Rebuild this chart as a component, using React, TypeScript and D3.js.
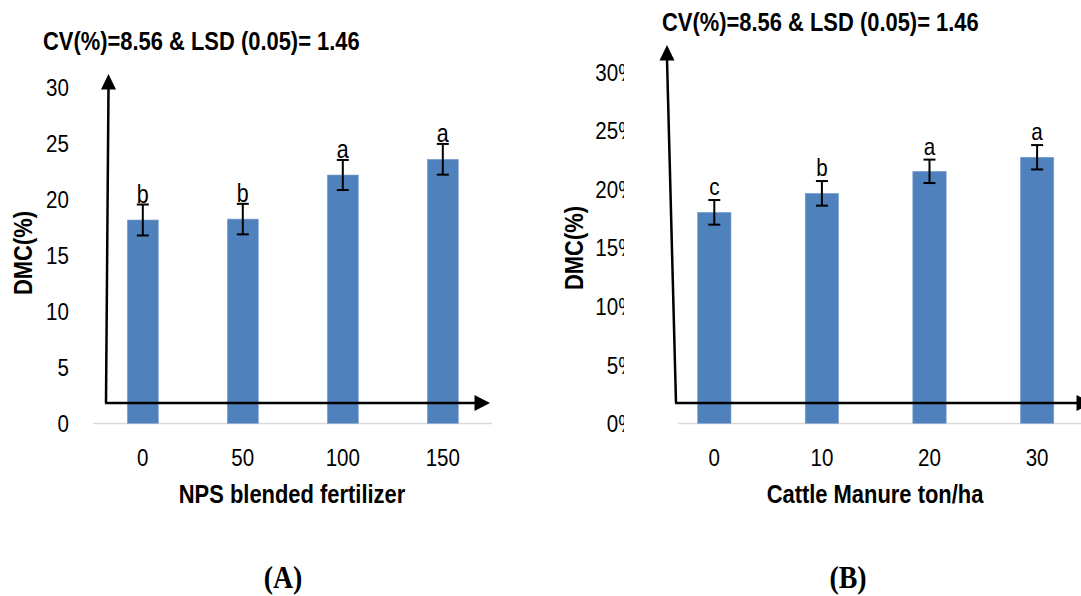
import React from 'react';
import * as d3 from 'd3';

// panel A: NPS blended fertilizer
const npsLevels = ['0', '50', '100', '150'];
const npsDmc = [18.12, 18.2, 22.13, 23.53];
const npsErr = [1.38, 1.36, 1.34, 1.37];
const npsLetters = ['b', 'b', 'a', 'a'];

// panel B: cattle manure
const manureLevels = ['0', '10', '20', '30'];
const manureDmc = [18.0, 19.62, 21.5, 22.7];
const manureErr = [1.05, 1.05, 1.0, 1.04];
const manureLetters = ['c', 'b', 'a', 'a'];

const yTicks = [0, 5, 10, 15, 20, 25, 30];
const statsNote = 'CV(%)=8.56 & LSD (0.05)= 1.46';

const SANS = '"Liberation Sans", Arial, sans-serif';
const SERIF = '"Liberation Serif", "Times New Roman", serif';
const BAR = '#4f81bd';
const SX = 0.86;

function T({ x, y, size, anchor = 'middle', weight = 'normal', family = SANS, rotate = 0, sx = SX, children }: any) {
    return (
        <text
            transform={`translate(${x},${y}) rotate(${rotate}) scale(${sx},1)`}
            fontSize={size}
            fontFamily={family}
            fontWeight={weight}
            textAnchor={anchor}
            fill="#000"
        >
            {children}
        </text>
    );
}

function Panel({ levels, values, errs, letters, xRange, yTop, tickRight, tickFmt, tickClip, letterGap, letterSize, axis, gray, xTitle, xTitleX, noteX, noteY, dmcX, dmcY, tag, tagX }: any) {
    const x = d3.scaleBand().domain(levels).range(xRange).paddingInner(0.69).paddingOuter(0.345);
    const y = d3.scaleLinear().domain([0, 30]).range([423.3, yTop]);
    const bw = x.bandwidth();

    return (
        <g>
            <T x={noteX} y={noteY} size={25.5} weight="bold" anchor="start">{statsNote}</T>

            <g clipPath={tickClip}>
                {yTicks.map(t => (
                    <T key={t} x={tickRight} y={y(t) + 8.8} size={24.5} anchor="end" sx={0.84}>{tickFmt(t)}</T>
                ))}
            </g>

            <line x1={gray[0]} x2={gray[1]} y1={423.5} y2={423.5} stroke="#d9d9d9" strokeWidth={1.5} />

            {values.map((v: number, i: number) => {
                const cx = x(levels[i])! + bw / 2;
                return (
                    <g key={i}>
                        <rect x={x(levels[i])} y={y(v)} width={bw} height={y(0) - y(v)} fill={BAR} stroke="#7fa2d0" strokeWidth={0.6} />
                        <line x1={cx} x2={cx} y1={y(v + errs[i])} y2={y(v - errs[i])} stroke="#000" strokeWidth={2} />
                        <line x1={cx - 6} x2={cx + 6} y1={y(v + errs[i])} y2={y(v + errs[i])} stroke="#000" strokeWidth={2} />
                        <line x1={cx - 6} x2={cx + 6} y1={y(v - errs[i])} y2={y(v - errs[i])} stroke="#000" strokeWidth={2} />
                        <T x={cx} y={y(v + errs[i]) - letterGap} size={letterSize}>{letters[i]}</T>
                        <T x={cx} y={465.5} size={24.5} sx={0.84}>{levels[i]}</T>
                    </g>
                );
            })}

            {/* hand-drawn axis arrows */}
            <line x1={axis.x0} y1={403} x2={axis.yTipX} y2={axis.yTip + 14} stroke="#000" strokeWidth={2.5} />
            <path d={`M${axis.yTipX},${axis.yTip} L${axis.yTipX - 7.5},${axis.yTip + 15.5} L${axis.yTipX + 7.5},${axis.yTip + 15.5} Z`} fill="#000" />
            <line x1={axis.x0 - 1} y1={403} x2={axis.xTip - 14} y2={403} stroke="#000" strokeWidth={2.5} />
            <path d={`M${axis.xTip},403 L${axis.xTip - 15.5},395 L${axis.xTip - 15.5},411 Z`} fill="#000" />

            <T x={dmcX} y={dmcY} size={25.5} weight="bold" rotate={-90}>DMC(%)</T>
            <T x={xTitleX} y={503} size={25.5} weight="bold">{xTitle}</T>
            <T x={tagX} y={588} size={31} weight="bold" family={SERIF} sx={0.9}>{tag}</T>
        </g>
    );
}

export default function App() {
    return (
        <svg width={1081} height={596} style={{ position: 'absolute', left: 0, top: 0, background: '#fff' }}>
            <defs>
                <clipPath id="tickClipB">
                    <rect x={0} y={0} width={624} height={596} />
                </clipPath>
            </defs>
            <rect width={1081} height={596} fill="#fff" />
            <Panel
                levels={npsLevels}
                values={npsDmc}
                errs={npsErr}
                letters={npsLetters}
                xRange={[92.8, 492.8]}
                yTop={86.7}
                tickRight={69}
                tickFmt={(t: number) => `${t}`}
                letterGap={1.5}
                letterSize={25}
                axis={{ x0: 106, yTipX: 108.5, yTip: 74, xTip: 490 }}
                gray={[93, 492]}
                xTitle="NPS blended fertilizer"
                xTitleX={292}
                noteX={43}
                noteY={50}
                dmcX={32}
                dmcY={253}
                tag="(A)"
                tagX={283}
            />
            <Panel
                levels={manureLevels}
                values={manureDmc}
                errs={manureErr}
                letters={manureLetters}
                xRange={[660.5, 1090.9]}
                yTop={71.7}
                tickRight={636.5}
                tickFmt={(t: number) => `${t}%`}
                tickClip="url(#tickClipB)"
                letterGap={5}
                letterSize={24}
                axis={{ x0: 676, yTipX: 667, yTip: 45, xTip: 1092 }}
                gray={[678, 1081]}
                xTitle="Cattle Manure ton/ha"
                xTitleX={875}
                noteX={662}
                noteY={31}
                dmcX={583}
                dmcY={248}
                tag="(B)"
                tagX={848}
            />
        </svg>
    );
}
